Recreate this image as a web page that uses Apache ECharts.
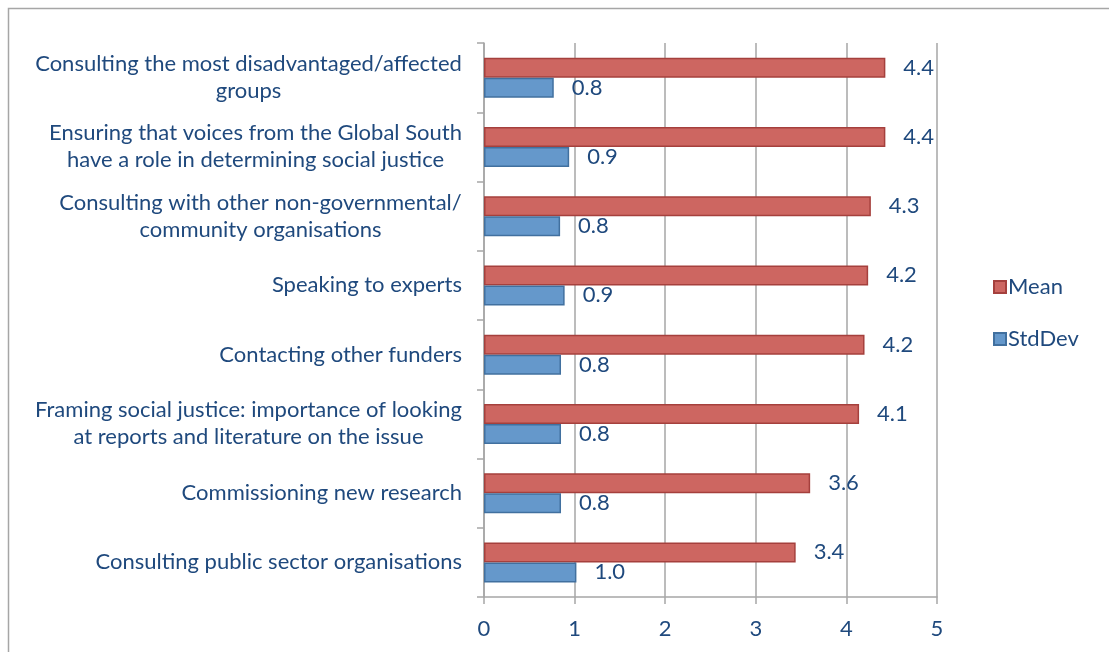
<!DOCTYPE html>
<html>
<head>
<meta charset="utf-8">
<script src="https://cdn.jsdelivr.net/npm/echarts@6/dist/echarts.min.js"></script>
<style>
  html, body { margin: 0; padding: 0; background: #fff; }
  #chart { width: 1109px; height: 652px; }
</style>
</head>
<body>
<div id="chart"></div>
<script>
// 类目（从上到下）
const categories = [
  'Consulting the most disadvantaged/affected\ngroups',
  'Ensuring that voices from the Global South\nhave a role in determining social justice',
  'Consulting with other non-governmental/\ncommunity organisations',
  'Speaking to experts',
  'Contacting other funders',
  'Framing social justice: importance of looking\nat reports and literature on the issue',
  'Commissioning new research',
  'Consulting public sector organisations'
]
const meanValues = [4.43, 4.43, 4.27, 4.24, 4.20, 4.14, 3.60, 3.44]
const stdDevValues = [0.77, 0.94, 0.84, 0.89, 0.85, 0.85, 0.85, 1.02]
const xTicks = [0, 1, 2, 3, 4, 5]

const fontFamily = 'Lato, "Open Sans", sans-serif'
const fontSize = 22
const textColor = '#1f497d'
const gridColor = '#a6a6a6'

// 多行标签：每行居中，整体右对齐 —— 先量出最长一行的宽度
const ctx = document.createElement('canvas').getContext('2d')
ctx.font = fontSize + 'px ' + fontFamily
const rich = {}
categories.forEach((c, i) => {
  const lines = c.split('\n')
  if (lines.length > 1) {
    const w = Math.max(...lines.map(l => ctx.measureText(l).width))
    rich['c' + i] = { width: Math.ceil(w), align: 'center', fontSize, fontFamily, color: textColor, lineHeight: 27 }
  }
})

const chart = echarts.init(document.getElementById('chart'), null, { renderer: 'canvas' })

const option = {
  animation: false,
  backgroundColor: '#fff',
  textStyle: { fontFamily },
  graphic: [{
    type: 'rect',
    shape: { x: 8.5, y: 8.5, width: 1200, height: 800 },
    style: { fill: 'none', stroke: '#a6a6a6', lineWidth: 1.5 },
    silent: true
  }],
  legend: {
    orient: 'vertical',
    left: 993,
    top: 276,
    padding: 0,
    icon: 'rect',
    itemWidth: 12,
    itemHeight: 12,
    itemGap: 30,
    textStyle: { color: textColor, fontSize, fontFamily, padding: [0, 0, 0, -3] },
    data: ['Mean', 'StdDev']
  },
  grid: { left: 484, right: 172, top: 43, bottom: 55, containLabel: false },
  xAxis: {
    type: 'value',
    min: 0,
    max: 5,
    interval: 1,
    axisLine: { show: true, lineStyle: { color: gridColor, width: 1.5 } },
    axisTick: { show: true, length: 7, inside: false, lineStyle: { color: gridColor, width: 1.5 } },
    splitLine: { show: true, lineStyle: { color: gridColor, width: 1.5 } },
    axisLabel: {
      color: textColor, fontSize, fontFamily, margin: 21,
      formatter: v => xTicks.includes(v) ? String(v) : ''
    }
  },
  yAxis: {
    type: 'category',
    inverse: true,
    data: categories,
    axisLine: { show: true, lineStyle: { color: gridColor, width: 1.5 } },
    axisTick: { show: true, length: 7, lineStyle: { color: gridColor, width: 1.5 } },
    axisLabel: {
      color: textColor, fontSize, fontFamily, margin: 22, lineHeight: 27,
      formatter: (v, i) => rich['c' + i] ? v.split('\n').map(l => '{c' + i + '|' + l + '}').join('\n') : v,
      rich
    }
  },
  series: [
    {
      name: 'Mean',
      type: 'bar',
      data: meanValues,
      barWidth: 20,
      barGap: '0%',
      itemStyle: { color: '#cd6661', borderColor: '#a5403d', borderWidth: 1.5 },
      label: {
        show: true, position: 'right', distance: 18,
        color: textColor, fontSize, fontFamily,
        formatter: p => p.value.toFixed(1)
      }
    },
    {
      name: 'StdDev',
      type: 'bar',
      data: stdDevValues,
      barWidth: 20,
      barGap: '0%',
      itemStyle: { color: '#6598cb', borderColor: '#41709f', borderWidth: 1.5 },
      label: {
        show: true, position: 'right', distance: 18,
        color: textColor, fontSize, fontFamily,
        formatter: p => p.value.toFixed(1)
      }
    }
  ]
}

chart.setOption(option)
</script>
</body>
</html>
